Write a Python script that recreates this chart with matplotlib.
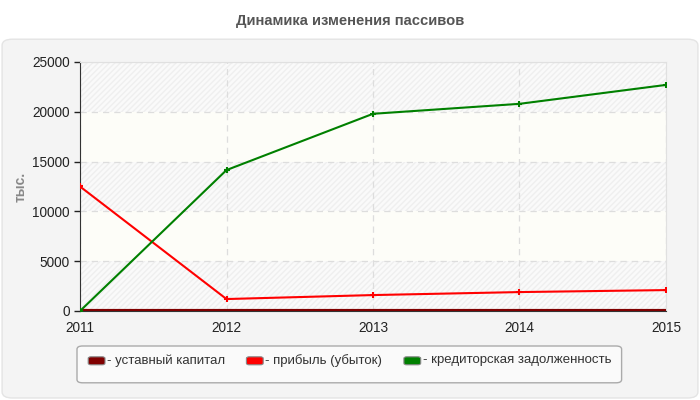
import matplotlib
matplotlib.use('Agg')
import matplotlib.pyplot as plt
from matplotlib.patches import FancyBboxPatch, Rectangle

plt.rcParams['font.family'] = ['Liberation Sans', 'DejaVu Sans']

years = [2011, 2012, 2013, 2014, 2015]
kapital = [10, 10, 10, 10, 10]
pribyl = [12500, 1200, 1600, 1900, 2100]
kredit = [0, 14150, 19800, 20800, 22700]

names = ['- уставный капитал', '- прибыль (убыток)', '- кредиторская задолженность']
colors = ['#800000', '#ff0000', '#008000']

fig = plt.figure(figsize=(7, 4), dpi=100)
fig.patch.set_facecolor('white')

# серая подложка
bg = FancyBboxPatch((0.003, 0.005), 0.994, 0.897, boxstyle='round,pad=0,rounding_size=0.015',
                    transform=fig.transFigure, facecolor='#f4f4f4', edgecolor='#e4e4e4', lw=1,
                    zorder=-10)
fig.patches.append(bg)

fig.text(0.5, 0.948, 'Динамика изменения пассивов', ha='center', va='center',
         fontsize=10.6, fontweight='bold', color='#555555')

ax = fig.add_axes([0.1143, 0.2225, 0.8371, 0.6225])
ax.set_facecolor('#fdfdf8')
ax.set_xlim(2011, 2015)
ax.set_ylim(0, 25000)

# полосы со штриховкой
for y0 in [0, 10000, 20000]:
    ax.add_patch(Rectangle((2011, y0), 4, 5000, facecolor='#fafafa', edgecolor='#efefef',
                           hatch='//////', lw=0, zorder=0))

ax.grid(True, color='#dddddd', linestyle=(0, (5, 4)), lw=0.9, zorder=1)
ax.set_axisbelow(True)

ax.plot(years, kapital, color=colors[0], lw=3, zorder=3, solid_capstyle='butt')
ax.plot(years, pribyl, color=colors[1], lw=1.5, marker='+', ms=5, mew=1.5, zorder=4)
ax.plot(years, kredit, color=colors[2], lw=1.5, marker='+', ms=5, mew=1.5, zorder=5)

ax.set_xticks(years)
ax.set_yticks(range(0, 25001, 5000))
ax.tick_params(axis='both', labelsize=9.8, colors='#222222', length=4, width=1)
ax.tick_params(axis='x', length=0, pad=7)
for s in ['top', 'right']:
    ax.spines[s].set_color('#e0e0e0')
for s in ['left', 'bottom']:
    ax.spines[s].set_color('#333333')
ax.set_ylabel('тыс.', color='#888888', fontsize=10, fontweight='bold')
ax.yaxis.set_label_coords(-0.09, 0.5)

# легенда
leg_box = FancyBboxPatch((0.110, 0.043), 0.778, 0.092, boxstyle='round,pad=0,rounding_size=0.008',
                         transform=fig.transFigure, facecolor='#fafafa', edgecolor='#aaaaaa', lw=1)
fig.patches.append(leg_box)
xs = [0.126, 0.352, 0.577]
for x, n, c in zip(xs, names, colors):
    fig.patches.append(FancyBboxPatch((x, 0.088), 0.024, 0.02,
                                      boxstyle='round,pad=0,rounding_size=0.004',
                                      transform=fig.transFigure, facecolor=c,
                                      edgecolor='#888888', lw=0.8))
    fig.text(x + 0.027, 0.099, n, ha='left', va='center', fontsize=9.5, color='#333333')

fig.savefig('out.png', dpi=100)
